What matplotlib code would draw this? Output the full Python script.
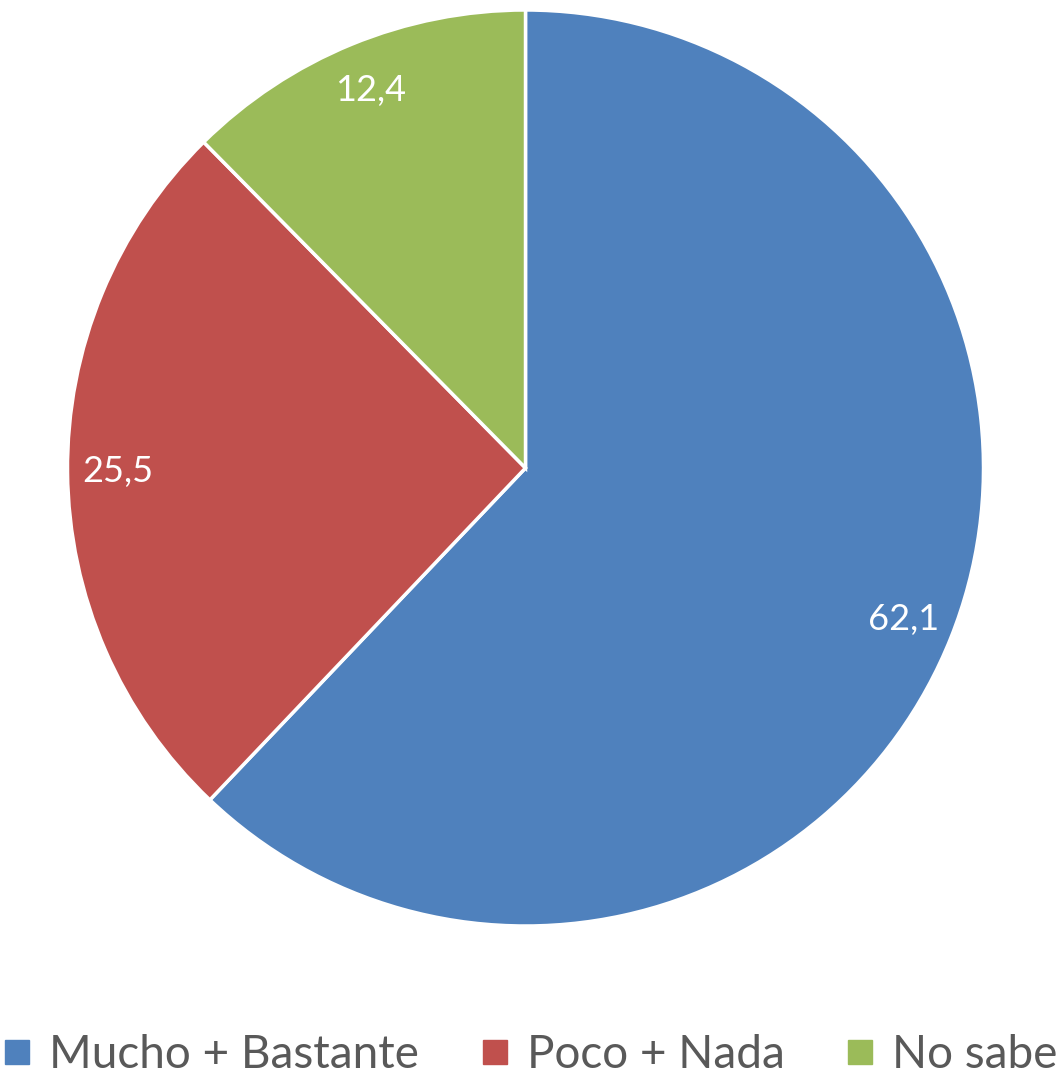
import matplotlib.pyplot as plt
from matplotlib.lines import Line2D

labels = ['Mucho + Bastante', 'Poco + Nada', 'No sabe']
values = [62.1, 25.5, 12.4]
colors = ['#4F81BD', '#C0504D', '#9BBB59']

plt.rcParams['font.family'] = ['Lato', 'DejaVu Sans']

fig = plt.figure(figsize=(10.61, 10.85), dpi=100)
ax = fig.add_axes([67.5 / 1061, 159 / 1085, 916 / 1061, 916 / 1085])

wedges, texts, autotexts = ax.pie(
    values, colors=colors, startangle=90, counterclock=False, radius=1,
    autopct=lambda p: ('%.1f' % p).replace('.', ','), pctdistance=0.89,
    wedgeprops=dict(edgecolor='white', linewidth=2.5),
    textprops=dict(color='white', fontsize=26))
ax.set_xlim(-1, 1)
ax.set_ylim(-1, 1)
ax.set_aspect('equal')
ax.axis('off')

handles = [Line2D([], [], marker='s', linestyle='', markersize=17,
                  markerfacecolor=c, markeredgecolor=c) for c in colors]
fig.legend(handles, labels, loc='lower center', ncol=3, frameon=False,
           bbox_to_anchor=(0.5, -0.03), fontsize=33, labelcolor='#595959',
           handlelength=0.6, handletextpad=0.4, columnspacing=1.35)

fig.savefig('out.png', dpi=100)
